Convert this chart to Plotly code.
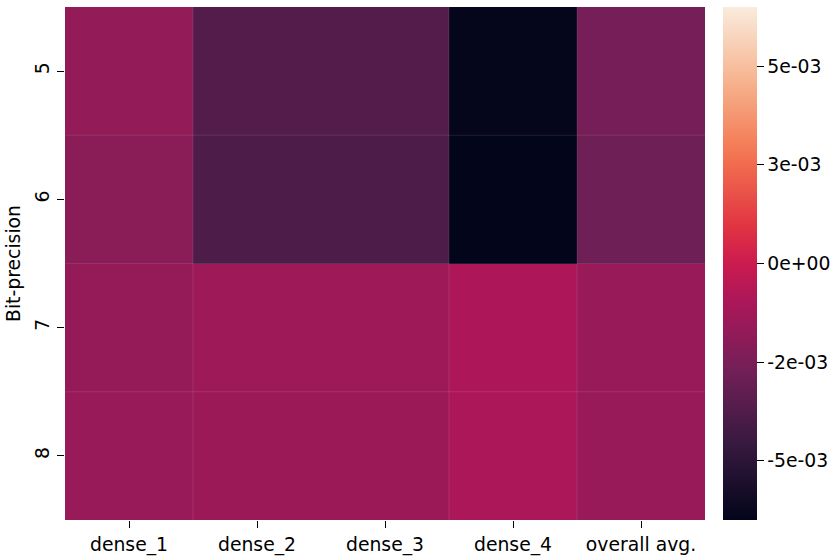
import plotly.graph_objects as go

layers = ["dense_1", "dense_2", "dense_3", "dense_4", "overall avg."]
bits = ["5", "6", "7", "8"]

row_5 = [-0.00174, -0.00367, -0.00367, -0.00643, -0.00260]
row_6 = [-0.00199, -0.00385, -0.00385, -0.00650, -0.00285]
row_7 = [-0.00165, -0.00141, -0.00141, -0.00093, -0.00153]
row_8 = [-0.00153, -0.00144, -0.00144, -0.00095, -0.00156]

cbar_ticks = [0.005, 0.0025, 0.0, -0.0025, -0.005]
cbar_labels = ["5e-03", "3e-03", "0e+00", "-2e-03", "-5e-03"]

rocket = [
    [0.0, "rgb(3,5,26)"],
    [0.143, "rgb(53,25,62)"],
    [0.286, "rgb(112,31,87)"],
    [0.429, "rgb(173,23,89)"],
    [0.5, "rgb(203,27,79)"],
    [0.571, "rgb(225,51,66)"],
    [0.714, "rgb(243,118,81)"],
    [0.857, "rgb(246,180,143)"],
    [1.0, "rgb(250,235,221)"],
]

font = dict(family="DejaVu Sans", size=18.8, color="black")
rows = [row_5, row_6, row_7, row_8]

fig = go.Figure(
    go.Heatmap(
        z=rows,
        x=layers,
        y=bits,
        colorscale=rocket,
        zmin=-0.0065,
        zmax=0.0065,
        colorbar=dict(
            x=1.028, xanchor="left", xpad=0,
            y=0.5, yanchor="middle", ypad=0,
            len=1.0, lenmode="fraction", thickness=34,
            outlinewidth=0,
            tickvals=cbar_ticks, ticktext=cbar_labels,
            ticks="outside", ticklen=7, tickwidth=1.2, tickcolor="black",
            tickfont=font,
        ),
        hoverongaps=False,
    )
)

# faint cell-edge seams (as in the reference rendering), only between differing columns
sep = "rgba(255,255,255,0.10)"
for i in range(1, len(layers)):
    if any(r[i] != r[i - 1] for r in rows):
        fig.add_shape(type="line", xref="x", yref="paper",
                      x0=i - 0.5, x1=i - 0.5, y0=0, y1=1,
                      line=dict(color=sep, width=1))
for j in range(1, len(bits)):
    fig.add_shape(type="line", xref="paper", yref="y",
                  x0=0, x1=1, y0=j - 0.5, y1=j - 0.5,
                  line=dict(color=sep, width=1))

fig.update_layout(
    width=831, height=558,
    margin=dict(l=65, r=126, t=7, b=38, autoexpand=False),
    paper_bgcolor="white",
    plot_bgcolor="white",
    font=font,
    xaxis=dict(
        showgrid=False, zeroline=False, showline=False,
        ticks="outside", ticklen=7, tickwidth=1.2, tickcolor="black",
        tickfont=font, automargin=False,
    ),
    yaxis=dict(
        autorange="reversed",
        showgrid=False, zeroline=False, showline=False,
        ticks="outside", ticklen=7, tickwidth=1.2, tickcolor="black",
        tickangle=-90, tickfont=font, automargin=False,
        title=dict(text="Bit-precision", font=font, standoff=6),
    ),
)

fig.write_html(
    "out.html",
    config={"displayModeBar": False},
    post_script="document.body.style.margin='0';document.body.style.overflow='hidden';",
)
